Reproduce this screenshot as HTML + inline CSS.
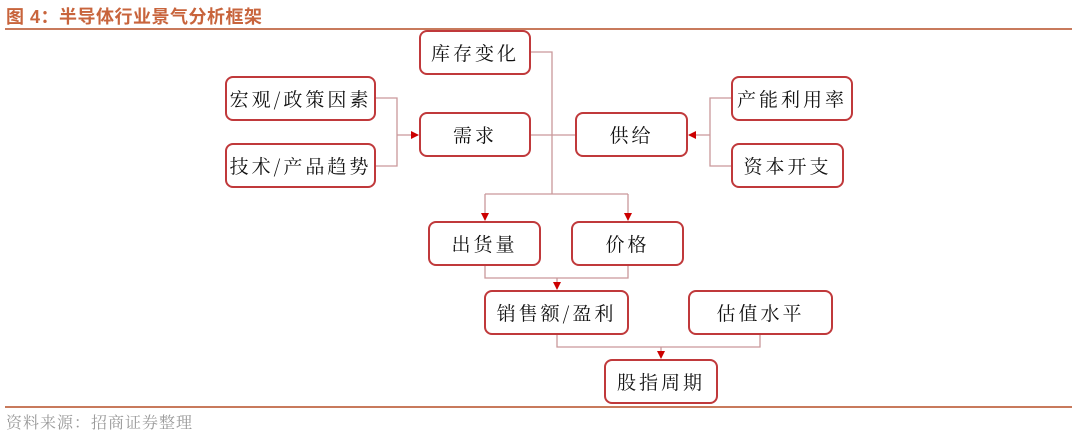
<!DOCTYPE html>
<html><head><meta charset="utf-8"><style>
body{margin:0;width:1077px;height:434px;background:#fff;overflow:hidden;position:relative;font-family:"Noto Serif CJK SC","WenQuanYi Zen Hei",serif}
.t{position:absolute;left:6px;top:3px;font:bold 18px "Liberation Sans","Noto Sans CJK SC",sans-serif;color:#c8643c;letter-spacing:0.5px}
.hl{position:absolute;left:5px;width:1067px;height:2px;background:#c87a5c}
.b{position:absolute;box-sizing:border-box;border:2px solid #c0393b;border-radius:8px;background:#fff;display:flex;align-items:center;justify-content:center;font-size:19px;color:#111;letter-spacing:3px}
.f{position:absolute;left:6px;top:410px;font-size:16px;color:#999;letter-spacing:1px}
</style></head><body>
<div class="t">图 4：半导体行业景气分析框架</div>
<div class="hl" style="top:28px"></div>
<div class="hl" style="top:406px"></div>
<svg width="1077" height="434" style="position:absolute;left:0;top:0">
<defs><marker id="a" markerWidth="8" markerHeight="8" refX="7" refY="4" orient="auto" markerUnits="userSpaceOnUse"><path d="M0,0L8,4L0,8z" fill="#c00"/></marker></defs>
<g fill="none" stroke="#c9989a" stroke-width="1.3">
<path d="M531,52H552V194"/><path d="M531,135H575"/>
<path d="M485,194H628"/>
<path d="M485,194V220" marker-end="url(#a)"/><path d="M628,194V220" marker-end="url(#a)"/>
<path d="M376,98H397V166H376"/><path d="M397,135H418" marker-end="url(#a)"/>
<path d="M731,98H710V166H731"/><path d="M710,135H689" marker-end="url(#a)"/>
<path d="M485,266V278H628V266"/><path d="M557,278V289" marker-end="url(#a)"/>
<path d="M557,335V347H760V335"/><path d="M661,347V358" marker-end="url(#a)"/>
</g></svg>
<div class="b" style="left:419px;top:30px;width:112px;height:45px">库存变化</div>
<div class="b" style="left:225px;top:76px;width:151px;height:45px">宏观/政策因素</div>
<div class="b" style="left:225px;top:143px;width:151px;height:45px">技术/产品趋势</div>
<div class="b" style="left:419px;top:112px;width:112px;height:45px">需求</div>
<div class="b" style="left:575px;top:112px;width:113px;height:45px">供给</div>
<div class="b" style="left:731px;top:76px;width:122px;height:45px">产能利用率</div>
<div class="b" style="left:731px;top:143px;width:113px;height:45px">资本开支</div>
<div class="b" style="left:428px;top:221px;width:113px;height:45px">出货量</div>
<div class="b" style="left:571px;top:221px;width:113px;height:45px">价格</div>
<div class="b" style="left:484px;top:290px;width:145px;height:45px">销售额/盈利</div>
<div class="b" style="left:688px;top:290px;width:145px;height:45px">估值水平</div>
<div class="b" style="left:604px;top:359px;width:114px;height:45px">股指周期</div>
<div class="f">资料来源：招商证券整理</div>
</body></html>
